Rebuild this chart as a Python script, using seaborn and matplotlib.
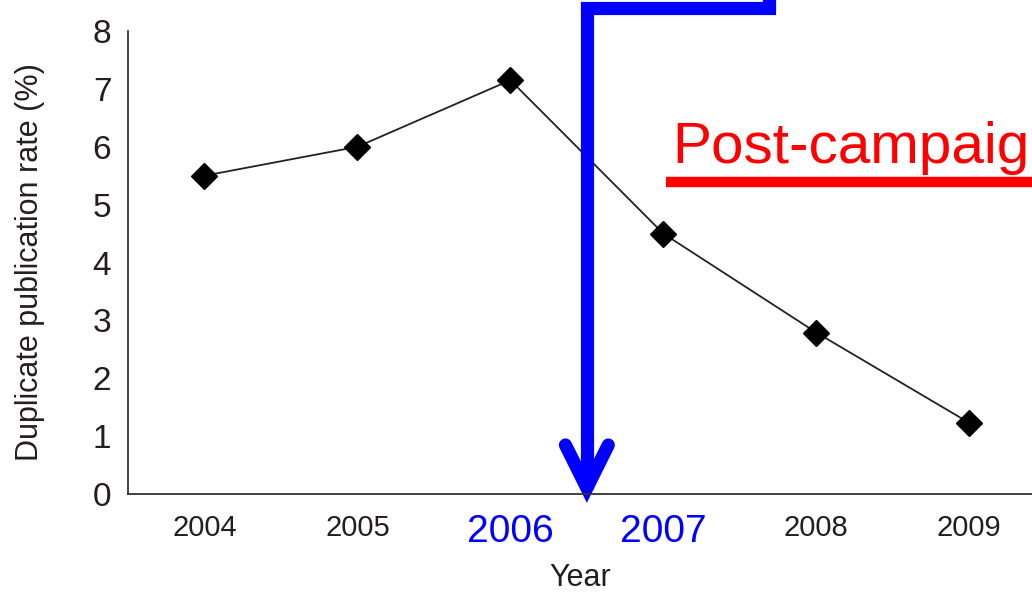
import matplotlib
matplotlib.use("Agg")
import matplotlib.pyplot as plt
import matplotlib.transforms as mtransforms
import pandas as pd
import seaborn as sns

years = ["2004", "2005", "2006", "2007", "2008", "2009"]
rates = [5.5, 6.0, 7.15, 4.5, 2.79, 1.23]
yticks = [0, 1, 2, 3, 4, 5, 6, 7, 8]
highlight_years = ["2006", "2007"]
campaign_label = "Post-campaig"  # cut off at the right edge in the original

df = pd.DataFrame({"Year": years, "Rate": rates})

sns.set_style("white")
plt.rcParams["font.family"] = ["Liberation Sans", "DejaVu Sans"]
txt = "#231f20"

fig = plt.figure(figsize=(10.32, 5.96), dpi=100)
ax = fig.add_axes([0.124, 0.171, 0.876, 0.777])

sns.pointplot(data=df, x="Year", y="Rate", color="black", markers="D",
              markersize=13, linewidth=1.3, ax=ax)
ax.lines[0].set_color("#222222")
ax.lines[0].set_markerfacecolor("black")
ax.lines[0].set_markeredgecolor("black")

ax.set_xlim(-0.5, 5.41)
ax.set_ylim(0, 8)
ax.set_yticks(yticks)
ax.set_yticklabels([str(t) for t in yticks], fontsize=24, color=txt)
ax.set_xticks(range(len(years)))
ax.set_xticklabels(years, fontsize=21, color=txt)
ax.set_xticks([i + 0.5 for i in range(len(years) - 1)], minor=True)
ax.tick_params(axis="x", which="major", length=0, pad=14)
ax.tick_params(axis="x", which="minor", direction="in", length=11, width=1, color="#444444")
ax.tick_params(axis="y", direction="in", length=14, width=1, color="#444444", pad=12)

for lab in ax.get_xticklabels():
    if lab.get_text() in highlight_years:
        lab.set_color("#0000ff")
        lab.set_fontsize(28)

ax.set_xlabel("Year", fontsize=22, color=txt, labelpad=10)
ax.set_ylabel("Duplicate publication rate (%)", fontsize=22, color=txt, labelpad=34)

for s in ["top", "right"]:
    ax.spines[s].set_visible(False)
for s in ["left", "bottom"]:
    ax.spines[s].set_color("#333333")
    ax.spines[s].set_linewidth(1.3)

# blue arrow marking the campaign start
tr = mtransforms.blended_transform_factory(ax.transData, ax.transAxes)
blue = "#0000ff"
ax.plot([3.69, 3.69, 2.5, 2.5], [1.08, 1.05, 1.05, 0.01], color=blue, lw=9.5,
        transform=tr, clip_on=False, solid_joinstyle="miter", solid_capstyle="butt")
ax.plot([2.36, 2.5, 2.64], [0.106, 0.013, 0.106], color=blue, lw=9.5,
        transform=tr, clip_on=False, solid_joinstyle="miter", solid_capstyle="round")

# red label with underline
ax.text(3.06, 0.715, campaign_label, color="#ff0000", fontsize=42,
        transform=tr, clip_on=False)
ax.plot([3.02, 5.6], [0.674, 0.674], color="#ff0000", lw=7.5, transform=tr,
        clip_on=False, solid_capstyle="butt")

fig.savefig("out.png", dpi=100)
